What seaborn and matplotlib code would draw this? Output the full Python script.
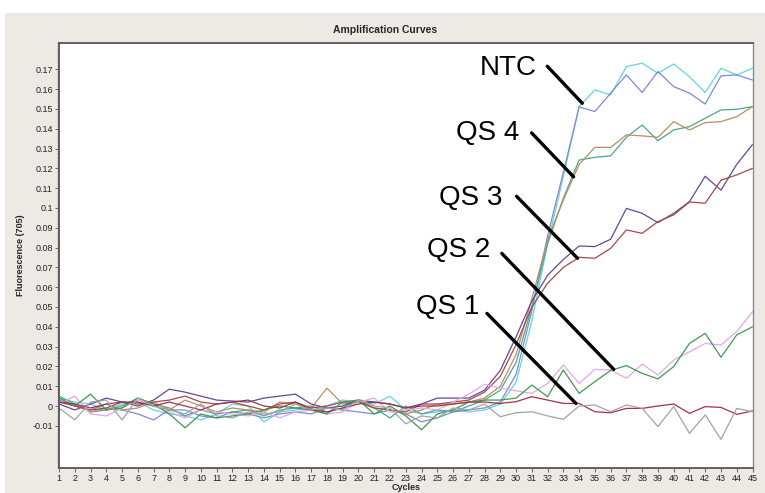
import numpy as np
import pandas as pd
import matplotlib
matplotlib.use("Agg")
import matplotlib.pyplot as plt
from matplotlib.patches import Rectangle
from matplotlib.ticker import MultipleLocator, FixedLocator
import seaborn as sns

# cycles 1..45
cycles = list(range(1, 46))

# fluorescence (705) per curve
ntc_a = [0.004, 0.002, 0.001, -0.002, 0.001, 0.002, -0.002, -0.004, -0.005, -0.007, -0.004, 0.001, 0.000, -0.008, -0.003,
         -0.002, -0.001, 0.000, 0.003, 0.002, 0.001, 0.005, -0.002, -0.004, -0.003, -0.002, -0.003,
         -0.002, 0.001, 0.012, 0.043, 0.082, 0.116, 0.1512, 0.1596, 0.1571, 0.1714, 0.1731, 0.168, 0.1727, 0.1663,
         0.1583, 0.1705, 0.1672, 0.1705]
ntc_b = [0.003, 0.000, -0.002, 0.001, -0.002, -0.004, -0.007, -0.002, -0.002, -0.005, -0.006, -0.003, -0.004, -0.006, -0.004,
         -0.003, -0.004, -0.001, -0.002, -0.003, -0.004, -0.002, -0.004, -0.008, -0.006, -0.003, -0.002,
         -0.001, 0.002, 0.016, 0.048, 0.086, 0.118, 0.151, 0.1487, 0.158, 0.1672, 0.1583, 0.1689, 0.1613, 0.158,
         0.1525, 0.1667, 0.1672, 0.1646]
qs4_a = [0.005, 0.001, -0.003, -0.002, 0.000, 0.004, 0.001, -0.001, -0.005, -0.002, -0.004, -0.003, -0.002, -0.005, -0.002,
         -0.001, 0.000, -0.003, -0.001, 0.003, -0.001, -0.006, 0.000, -0.004, -0.002, -0.003, 0.000,
         0.003, 0.008, 0.022, 0.050, 0.082, 0.105, 0.1242, 0.1256, 0.1263, 0.1357, 0.1419, 0.134, 0.1394, 0.1411,
         0.1453, 0.1495, 0.1498, 0.1512]
qs4_b = [0.002, 0.001, -0.003, -0.001, -0.002, -0.001, 0.002, -0.002, 0.003, 0.000, -0.003, -0.001, -0.002, -0.003, 0.002,
         0.001, -0.001, 0.009, 0.001, 0.002, -0.001, -0.002, -0.004, -0.002, 0.001, 0.001, 0.002,
         0.004, 0.010, 0.026, 0.054, 0.084, 0.104, 0.122, 0.1306, 0.1306, 0.1369, 0.1364, 0.1357, 0.1436, 0.1394,
         0.1431, 0.1436, 0.1461, 0.1512]
qs3_a = [0.001, -0.002, 0.001, 0.004, 0.002, 0.000, 0.003, 0.0085, 0.007, 0.005, 0.003, 0.0025, 0.002, 0.004, 0.005,
         0.006, 0.001, -0.001, 0.000, 0.003, 0.002, 0.001, -0.001, 0.001, 0.004, 0.004, 0.004,
         0.008, 0.018, 0.035, 0.053, 0.066, 0.074, 0.0808, 0.0805, 0.0842, 0.0998, 0.0973, 0.0926, 0.0973, 0.1032,
         0.116, 0.109, 0.122, 0.132]
qs3_b = [0.002, 0.000, -0.002, -0.001, 0.002, 0.001, 0.002, 0.003, 0.005, 0.002, 0.001, 0.002, 0.000, -0.002, 0.001,
         0.002, -0.001, 0.000, 0.002, 0.002, -0.001, -0.002, -0.003, 0.001, 0.001, 0.002, 0.003,
         0.007, 0.015, 0.031, 0.050, 0.062, 0.070, 0.0751, 0.0746, 0.0796, 0.0889, 0.0872, 0.0931, 0.0965, 0.103,
         0.1024, 0.114, 0.1167, 0.120]
qs2_a = [0.001, 0.005, -0.004, -0.005, -0.001, 0.003, 0.000, -0.003, -0.006, -0.002, -0.003, -0.004, -0.005, -0.003, -0.006,
         -0.003, -0.002, -0.004, -0.003, 0.002, 0.004, -0.003, -0.002, -0.001, -0.002, 0.002, 0.006,
         0.011, 0.009, 0.0077, 0.0064, 0.0114, 0.0207, 0.0114, 0.0185, 0.0182, 0.014, 0.0212, 0.0157, 0.0232, 0.0274,
         0.0316, 0.0308, 0.0376, 0.0476]
qs2_b = [0.004, 0.000, 0.006, -0.002, -0.001, 0.004, 0.001, -0.004, -0.011, -0.004, -0.006, -0.005, -0.004, -0.002, 0.000,
         -0.001, -0.002, -0.004, 0.002, 0.003, -0.004, 0.000, -0.005, -0.012, -0.004, -0.002, 0.002,
         0.003, 0.003, 0.004, 0.0106, 0.0047, 0.0182, 0.0064, 0.0123, 0.018, 0.0204, 0.0165, 0.0137, 0.0199, 0.0316,
         0.0367, 0.0246, 0.0359, 0.040]
qs1_a = [0.002, 0.001, -0.001, 0.001, 0.002, 0.002, 0.000, 0.002, 0.000, -0.002, 0.001, 0.002, 0.003, 0.000, -0.001,
         0.002, -0.002, -0.003, -0.001, 0.001, 0.002, 0.001, -0.001, 0.000, 0.000, 0.001, 0.002,
         0.002, 0.0013, 0.0022, 0.0047, 0.003, 0.0013, 0.0013, -0.0029, -0.0034, -0.0012, -0.0012, 0.000, 0.001, -0.0037,
         -0.0003, -0.0007, -0.0042, -0.0025]
qs1_b = [-0.001, -0.007, 0.002, 0.003, -0.007, 0.004, 0.000, -0.002, -0.004, 0.001, -0.005, -0.006, -0.003, -0.004, -0.003,
         0.001, -0.002, -0.001, -0.002, 0.003, 0.000, -0.001, -0.009, -0.005, -0.006, -0.001, -0.002,
         0.001, -0.0054, -0.0034, -0.0029, -0.005, -0.0067, 0.000, 0.0005, -0.0029, 0.0005, -0.0012, -0.0104, -0.0003, -0.0138,
         -0.0045, -0.0168, -0.0012, -0.0029]

curve_names = ["NTC a", "NTC b", "QS 4 a", "QS 4 b", "QS 3 a", "QS 3 b", "QS 2 a", "QS 2 b", "QS 1 a", "QS 1 b"]
curve_values = [ntc_a, ntc_b, qs4_a, qs4_b, qs3_a, qs3_b, qs2_a, qs2_b, qs1_a, qs1_b]
curve_colors = ["#62d6de", "#7f8ad2", "#4aa88a", "#b88f62", "#62489a", "#a24a4a",
                "#e6a6e8", "#3f9a4e", "#a03246", "#a3a3a3"]

# labels: which curve the leader line touches and at which cycle
label_texts = ["NTC", "QS 4", "QS 3", "QS 2", "QS 1"]
label_curves = ["NTC a", "QS 4 b", "QS 3 b", "QS 2 b", "QS 1 a"]
label_cycles = [34.2, 33.65, 33.9, 36.2, 33.8]

df = pd.concat([pd.DataFrame({"Cycles": cycles, "Fluorescence": v, "curve": n})
                for n, v in zip(curve_names, curve_values)], ignore_index=True)

sns.set_style("white")
plt.rcParams["font.family"] = ["Liberation Sans", "DejaVu Sans"]

fig = plt.figure(figsize=(7.65, 4.93), dpi=100, facecolor="white")
fig.patches.append(Rectangle((5 / 765, 0), 760 / 765, 480 / 493, transform=fig.transFigure,
                             facecolor="#edeae5", edgecolor="none", zorder=-10))
ax = fig.add_axes([59 / 765, 1 - 468 / 493, 693.5 / 765, 425 / 493])
ax.set_facecolor("white")

sns.lineplot(data=df, x="Cycles", y="Fluorescence", hue="curve",
             palette=dict(zip(curve_names, curve_colors)), linewidth=0.9,
             legend=False, ax=ax)

ax.set_xlim(1, 45)
ax.set_ylim(-0.0313, 0.1833)
ax.xaxis.set_major_locator(FixedLocator(cycles))
ax.set_xticklabels([str(c) for c in cycles])
yt = [round(v, 2) for v in np.arange(-0.01, 0.1701, 0.01)]
ax.yaxis.set_major_locator(FixedLocator(yt))
ax.set_yticklabels(["%g" % v for v in yt])
ax.yaxis.set_minor_locator(MultipleLocator(0.001))
ax.tick_params(axis="both", which="major", labelsize=6.5, length=3, width=0.7,
               color="#666666", labelcolor="#222222", pad=1.5, direction="out")
ax.tick_params(axis="y", which="minor", length=1.8, width=0.5, color="#888888", left=True)
ax.tick_params(axis="x", bottom=True)
ax.tick_params(axis="y", left=True)

for side in ["left", "bottom", "top"]:
    ax.spines[side].set_color("#555555")
    ax.spines[side].set_linewidth(1.3)
ax.spines["right"].set_color("#8a8a8a")
ax.spines["right"].set_linewidth(1.0)

ax.set_xlabel("Cycles", fontsize=6.5, fontweight="bold", labelpad=0)
ax.set_ylabel("Fluorescence (705)", fontsize=6.5, fontweight="bold", labelpad=5)
fig.text(385 / 765, 1 - 30 / 493, "Amplification Curves", ha="center", va="center",
         fontsize=7.5, fontweight="bold")

# leader lines and labels (offsets in pixels from the touched point)
line_offsets = [(-35, 37), (-42, 44), (-61, 62), (-112, 116), (-89, 90)]
text_offsets = [(-74, 38), (-86, 47), (-107, 63), (-155, 122), (-128, 99)]
for txt, cname, cyc, loff, toff in zip(label_texts, label_curves, label_cycles, line_offsets, text_offsets):
    yv = np.interp(cyc, cycles, curve_values[curve_names.index(cname)])
    ax.annotate("", xy=(cyc, yv), xytext=loff, textcoords="offset pixels",
                arrowprops=dict(arrowstyle="-", lw=2.4, color="black", shrinkA=0, shrinkB=0))
    ax.annotate(txt, xy=(cyc, yv), xytext=toff, textcoords="offset pixels",
                ha="center", va="center_baseline", fontsize=20, color="black")

fig.savefig("out.png", dpi=100, facecolor=fig.get_facecolor())
